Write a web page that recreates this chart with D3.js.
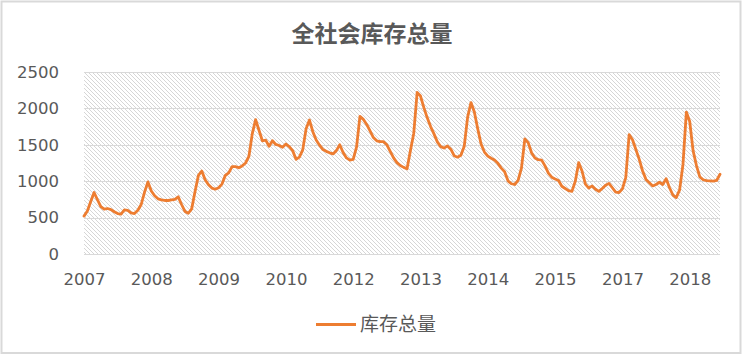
<!DOCTYPE html>
<html><head><meta charset="utf-8">
<script src="https://cdn.jsdelivr.net/npm/d3@7"></script>
<style>body{margin:0;background:#fff;}svg{display:block;}</style>
</head><body>
<svg id="c" width="744" height="355"></svg>
<script>
const title = "全社会库存总量";
const seriesName = "库存总量";
const yTicks = [0, 500, 1000, 1500, 2000, 2500];
const tickLabels = ["2007","2008","2009","2010","2012","2013","2014","2015","2017","2018"];
const labelInterval = 20;
const values = [
 520,590,720,845,745,650,615,625,610,580,
 555,548,605,598,565,555,600,680,850,990,
 865,800,758,744,735,735,742,750,785,680,
 585,560,620,860,1080,1140,1020,950,905,890,
 910,960,1080,1115,1200,1200,1185,1210,1250,1340,
 1650,1845,1700,1555,1565,1480,1555,1505,1490,1465,
 1510,1475,1420,1300,1330,1430,1720,1840,1680,1565,
 1495,1435,1410,1390,1375,1420,1500,1395,1320,1290,
 1300,1470,1890,1850,1780,1690,1600,1555,1543,1543,
 1500,1410,1320,1255,1215,1190,1170,1420,1660,2220,
 2170,2010,1870,1750,1650,1540,1475,1455,1485,1440,
 1350,1330,1355,1480,1880,2080,1950,1720,1510,1400,
 1345,1315,1290,1245,1180,1130,1005,965,955,1010,
 1180,1580,1530,1390,1320,1295,1290,1210,1110,1055,
 1030,1010,930,900,870,860,1000,1255,1140,960,
 905,935,890,860,900,945,970,910,850,845,
 895,1050,1640,1570,1435,1300,1140,1025,980,935,
 955,985,955,1035,910,810,775,880,1230,1950,
 1820,1420,1215,1060,1020,1008,1005,1000,1010,1095
];
const categories = values.map((d, i) => i);

const svg = d3.select("#c");
const pL = 84, pR = 720, pT = 72, pB = 254;
const x = d3.scaleLinear().domain([0, categories.length - 1]).range([pL, pR]);
const y = d3.scaleLinear().domain([0, 2500]).range([pB, pT]);

// border
svg.append("rect").attr("x", 1.5).attr("y", 1.5).attr("width", 739).attr("height", 351.5)
  .attr("fill", "#fff").attr("stroke", "#d9d9d9").attr("stroke-width", 2);

// hatch pattern
const defs = svg.append("defs");
const pat = defs.append("pattern").attr("id", "hatch").attr("patternUnits", "userSpaceOnUse")
  .attr("width", 4).attr("height", 4);
pat.append("rect").attr("width", 4).attr("height", 4).attr("fill", "#fff");
pat.append("path").attr("d", "M-1,-1 L5,5 M-1,3 L1,5 M3,-1 L5,1")
  .attr("stroke", "#d6d6d6").attr("stroke-width", 1);
svg.append("rect").attr("x", pL).attr("y", pT).attr("width", pR - pL).attr("height", pB - pT)
  .attr("fill", "url(#hatch)");

// gridlines
svg.append("g").selectAll("line").data(yTicks).join("line")
  .attr("x1", pL).attr("x2", pR)
  .attr("y1", d => Math.round(y(d)) + 0.5).attr("y2", d => Math.round(y(d)) + 0.5)
  .attr("stroke", "#d9d9d9").attr("stroke-width", 1);

// y axis labels
const yAxis = d3.axisLeft(y).tickValues(yTicks).tickSize(0).tickPadding(25).tickFormat(d3.format("d"));
const gy = svg.append("g").attr("transform", `translate(${pL},0)`).call(yAxis);
gy.select(".domain").remove();
gy.selectAll("text").attr("font-family", "DejaVu Sans").attr("font-size", 16.5).attr("fill", "#595959");

// x axis labels
const tickIdx = tickLabels.map((t, i) => i * labelInterval);
const xAxis = d3.axisBottom(x).tickValues(tickIdx).tickSize(0).tickPadding(19)
  .tickFormat((d, i) => tickLabels[i]);
const gx = svg.append("g").attr("transform", `translate(0,${pB})`).call(xAxis);
gx.select(".domain").remove();
gx.selectAll("text").attr("font-family", "DejaVu Sans").attr("font-size", 16.5).attr("fill", "#595959");

// line
const line = d3.line().x((d, i) => x(categories[i])).y(d => y(d)).curve(d3.curveLinear);
svg.append("path").datum(values).attr("d", line).attr("fill", "none")
  .attr("stroke", "#ED7D31").attr("stroke-width", 2.8).attr("stroke-linejoin", "round").attr("stroke-linecap", "round");

// title
svg.append("text").attr("x", 372).attr("y", 42).attr("text-anchor", "middle")
  .attr("font-family", "Noto Sans CJK SC").attr("font-weight", "bold").attr("font-size", 23)
  .attr("fill", "#595959").text(title);

// legend
svg.append("line").attr("x1", 316).attr("x2", 356).attr("y1", 324.5).attr("y2", 324.5)
  .attr("stroke", "#ED7D31").attr("stroke-width", 3);
svg.append("text").attr("x", 360).attr("y", 331).attr("font-family", "Noto Sans CJK SC")
  .attr("font-size", 19).attr("fill", "#595959").text(seriesName);
</script>
</body></html>
